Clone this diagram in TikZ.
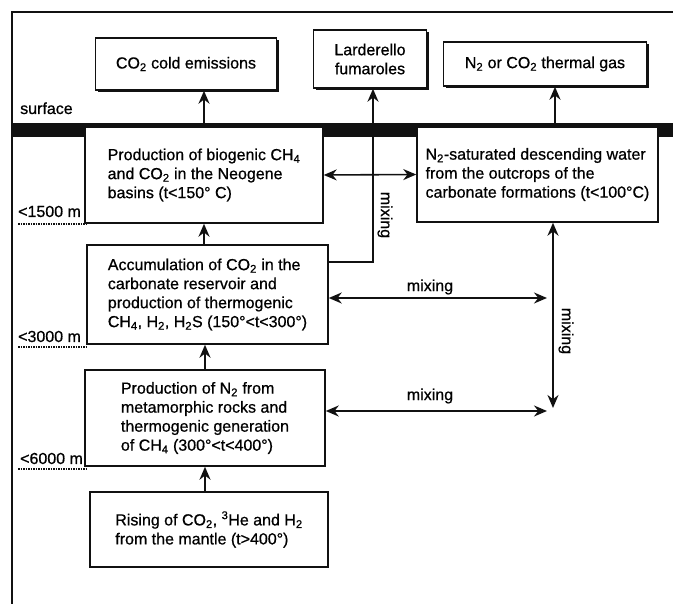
\documentclass[tikz,border=0pt]{standalone}
\usepackage{fontspec}
\setmainfont{Liberation Sans}[FakeBold=0.7]
\usepackage{xcolor}
\usepackage{tikz}
\usetikzlibrary{arrows.meta,shadows}
\definecolor{ink}{HTML}{111111}
\tikzset{
  stage/.style={draw=ink, line width=1.5pt, fill=white, align=left, inner sep=2pt,
    font=\fontsize{16}{19}\selectfont},
  outlet/.style={stage, align=center,
    drop shadow={shadow xshift=2.5pt, shadow yshift=-2.5pt, fill=ink, opacity=1}},
  flow/.style={ink, line width=1.6pt, -{Stealth[length=13pt,width=11pt]}},
  mix/.style={ink, line width=1.6pt, {Stealth[length=13pt,width=11pt]}-{Stealth[length=13pt,width=11pt]}},
  depth/.style={font=\fontsize{16}{19}\selectfont, anchor=base west, inner sep=0pt},
  level/.style={ink, line width=1.6pt, dash pattern=on 1.5pt off 1pt},
  note/.style={font=\fontsize{16}{19}\selectfont, inner sep=1pt}
}

\begin{document}
\begin{tikzpicture}[x=1pt, y=-1pt]
        \useasboundingbox (0,0) rectangle (673,604);
        \draw[ink, line width=1.8pt] (673,12) -- (12,12) -- (12,604);
        \fill[ink] (12,123) rectangle (673,137);

        % depth scale
        \node[depth] (surf) at (20,114) {surface};
        \node[depth] (d1500) at (18,217) {<1500 m};
        \node[depth] (d3000) at (18,342) {<3000 m};
        \node[depth] (d6000) at (20,464) {<6000 m};
        \draw[level] (18,224) -- (86,224);
        \draw[level] (18,347) -- (86,347);
        \draw[level] (18,469) -- (86,469);

        % outlets at the surface
        \node[outlet, minimum width=181pt, minimum height=52pt] (cold) at (186,64) {CO\textsubscript{2} cold emissions};
        \node[outlet, minimum width=113pt, minimum height=58pt] (fum) at (370,59) {Larderello\\fumaroles};
        \node[outlet, minimum width=203pt, minimum height=44pt] (gas) at (545,64) {N\textsubscript{2} or CO\textsubscript{2} thermal gas};

        % underground stages
        \node[stage, minimum width=238pt, minimum height=96pt] (bio) at (204,175)
          {Production of biogenic CH\textsubscript{4}\\and CO\textsubscript{2} in the Neogene\\basins (t<150° C)};
        \node[stage, minimum width=241pt, minimum height=95pt] (water) at (537.5,174.5)
          {N\textsubscript{2}-saturated descending water\\from the outcrops of the\\carbonate formations (t<100°C)};
        \node[stage, minimum width=241pt, minimum height=99pt] (accum) at (207.5,294.5)
          {Accumulation of CO\textsubscript{2} in the\\carbonate reservoir and\\production of thermogenic\\CH\textsubscript{4}, H\textsubscript{2}, H\textsubscript{2}S (150°<t<300°)};
        \node[stage, minimum width=240pt, minimum height=96pt] (nitro) at (205,418)
          {Production of N\textsubscript{2} from\\metamorphic rocks and\\thermogenic generation\\of CH\textsubscript{4} (300°<t<400°)};
        \node[stage, minimum width=238pt, minimum height=75pt] (mantle) at (209,529.5)
          {Rising of CO\textsubscript{2}, \textsuperscript{3}He and H\textsubscript{2}\\from the mantle (t>400°)};

        % rising gas
        \draw[flow] (bio.north) -- (bio.north |- cold.south);
        \draw[flow] (accum.north -| bio.south) -- (bio.south);
        \draw[flow] (nitro.north) -- (nitro.north |- accum.south);
        \draw[flow] (nitro.south |- mantle.north) -- (nitro.south);
        \coordinate (fumfoot) at (373,262);
        \draw[flow] (fumfoot -| accum.east) -- (fumfoot) -- (fumfoot |- fum.south);
        \coordinate (gasfoot) at (555,127);
        \draw[flow] (gasfoot) -- (gasfoot |- gas.south);

        % mixing
        \draw[mix] (bio.east) -- (water.west);
        \coordinate (mixtop) at (547,298);
        \draw[mix] (mixtop -| accum.east) -- (mixtop);
        \coordinate (mixlow) at (547,411);
        \draw[mix] (mixlow -| nitro.east) -- (mixlow);
        \coordinate (mixfoot) at (553,408);
        \draw[mix] (mixfoot |- water.south) -- (mixfoot);
        \node[note] (mixa) at (430,287) {mixing};
        \node[note] (mixb) at (430,396) {mixing};
        \node[note, rotate=-90] (mixc) at (385,215) {mixing};
        \node[note, rotate=-90] (mixd) at (566,331) {mixing};
      \end{tikzpicture}
\end{document}
